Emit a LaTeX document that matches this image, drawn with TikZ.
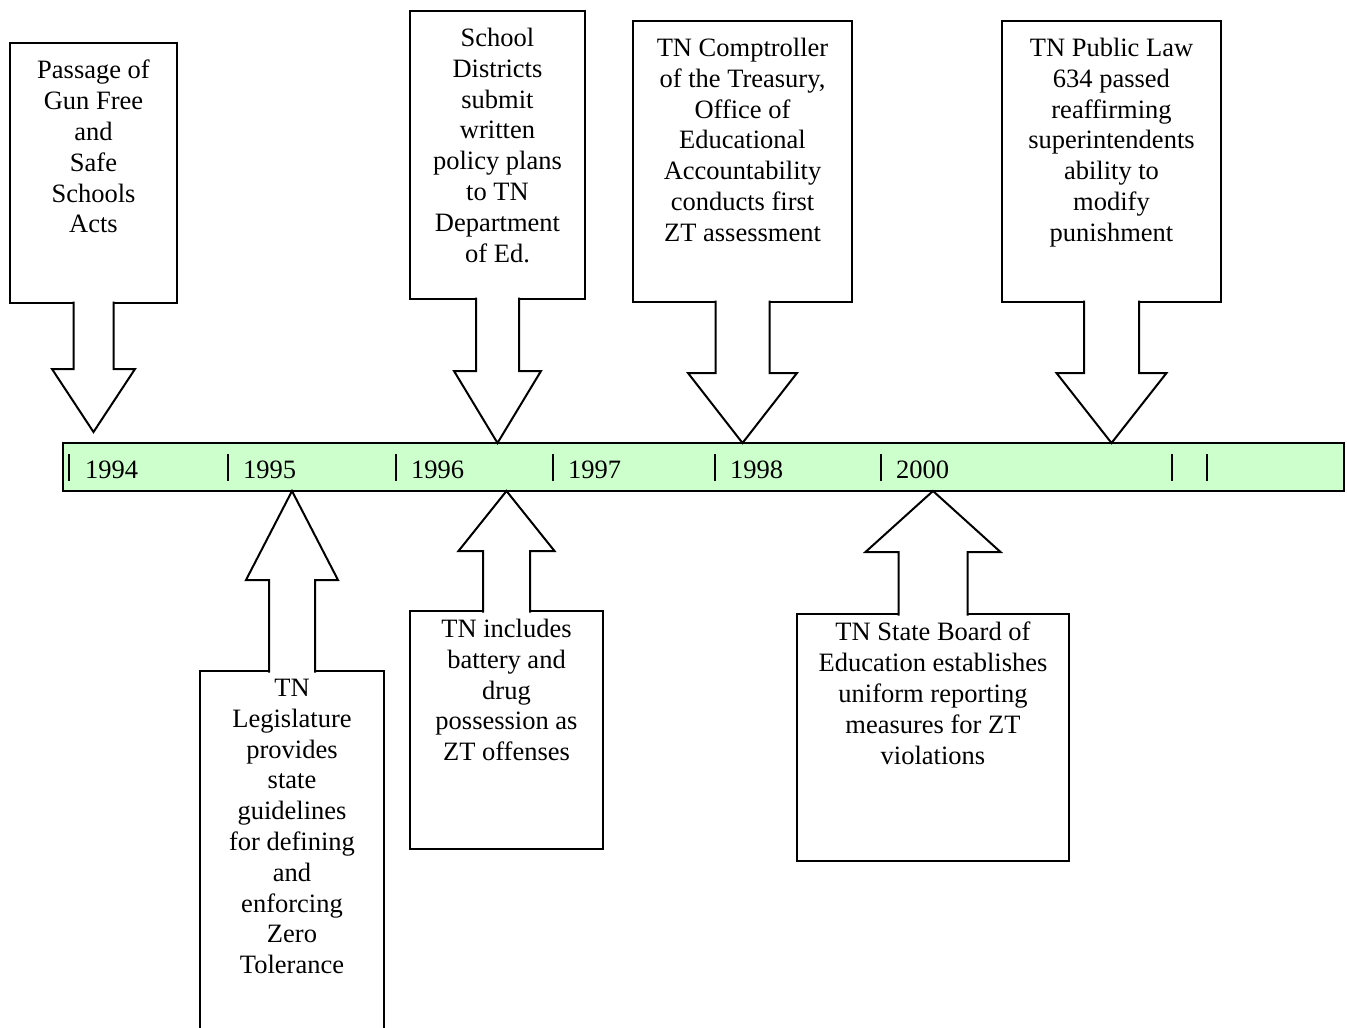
\documentclass[tikz,border=0pt]{standalone}
\usepackage{fontspec}
\setmainfont{Liberation Serif}
\usepackage{xcolor}
\usetikzlibrary{positioning,calc}
\definecolor{barfill}{HTML}{CCFFCC}

\begin{document}
\begin{tikzpicture}[x=1pt, y=-1pt,
        eventbox/.style={draw, line width=2pt, rectangle, anchor=north, inner sep=0pt, outer sep=0pt},
        eventtext/.style={align=center, inner sep=0pt, font=\fontsize{26.5}{30.8}\selectfont},
        blockarrow/.style={draw, line width=2pt, fill=white},
        yeartick/.style={line width=2pt},
        yearlabel/.style={anchor=base west, inner sep=0pt, font=\fontsize{26.5}{30.8}\selectfont}]
        \useasboundingbox (0,0) rectangle (1347,1028);

        % Timeline bar
        \node[draw, line width=2.5pt, fill=barfill, anchor=north west, minimum width=1281pt, minimum height=48pt, inner sep=0pt, outer sep=0pt] (timeline) at (63,443) {};

        % Year marks
        \foreach \x in {69,228,396,553,715,881,1172,1207}
            \draw[yeartick] (\x,454) -- (\x,481);
        \node[yearlabel] (y1994) at (85,478) {1994};
        \node[yearlabel] (y1995) at (243,478) {1995};
        \node[yearlabel] (y1996) at (411,478) {1996};
        \node[yearlabel] (y1997) at (568,478) {1997};
        \node[yearlabel] (y1998) at (730,478) {1998};
        \node[yearlabel] (y2000) at (896,478) {2000};

        % Events above the bar
        \node[eventbox, minimum width=167pt, minimum height=260pt] (gunfree) at (93.5,43) {};
        \node[eventtext, below=17pt of gunfree.north] (gunfree text) {Passage of\\Gun Free\\and\\Safe\\Schools\\Acts};

        \node[eventbox, minimum width=175pt, minimum height=288pt] (plans) at (497.5,11) {};
        \node[eventtext, below=17pt of plans.north] (plans text) {School\\Districts\\submit\\written\\policy plans\\to TN\\Department\\of Ed.};

        \node[eventbox, minimum width=219pt, minimum height=281pt] (comptroller) at (742.5,21) {};
        \node[eventtext, below=17pt of comptroller.north] (comptroller text) {TN Comptroller\\of the Treasury,\\Office of\\Educational\\Accountability\\conducts first\\ZT assessment};

        \node[eventbox, minimum width=219pt, minimum height=281pt] (publiclaw) at (1111.5,21) {};
        \node[eventtext, below=17pt of publiclaw.north] (publiclaw text) {TN Public Law\\634 passed\\reaffirming\\superintendents\\ability to\\modify\\punishment};

        % Events below the bar
        \node[eventbox, minimum width=184pt, minimum height=359pt] (guidelines) at (292,671) {};
        \node[eventtext, below=8pt of guidelines.north] (guidelines text) {TN\\Legislature\\provides\\state\\guidelines\\for defining\\and\\enforcing\\Zero\\Tolerance};

        \node[eventbox, minimum width=193pt, minimum height=238pt] (offenses) at (506.5,611) {};
        \node[eventtext, below=8pt of offenses.north] (offenses text) {TN includes\\battery and\\drug\\possession as\\ZT offenses};

        \node[eventbox, minimum width=272pt, minimum height=247pt] (reporting) at (933,614) {};
        \node[eventtext, below=8pt of reporting.north] (reporting text) {TN State Board of\\Education establishes\\uniform reporting\\measures for ZT\\violations};

        % Arrow tips
        \coordinate (gunfree tip) at (93.5,432);
        \coordinate (plans tip) at (plans.south |- timeline.north);
        \coordinate (comptroller tip) at (comptroller.south |- timeline.north);
        \coordinate (publiclaw tip) at (publiclaw.south |- timeline.north);
        \coordinate (guidelines tip) at (guidelines.north |- timeline.south);
        \coordinate (offenses tip) at (offenses.north |- timeline.south);
        \coordinate (reporting tip) at (reporting.north |- timeline.south);

        % Arrows down to the bar
        \draw[blockarrow] ($(gunfree.south)+(-20,-1.5)$) -- ($(gunfree tip)+(-20,-63)$) -- ($(gunfree tip)+(-41.5,-63)$) -- (gunfree tip) -- ($(gunfree tip)+(41.5,-63)$) -- ($(gunfree tip)+(20,-63)$) -- ($(gunfree.south)+(20,-1.5)$);
        \draw[blockarrow] ($(plans.south)+(-21.5,-1.5)$) -- ($(plans tip)+(-21.5,-72)$) -- ($(plans tip)+(-43.5,-72)$) -- (plans tip) -- ($(plans tip)+(43.5,-72)$) -- ($(plans tip)+(21.5,-72)$) -- ($(plans.south)+(21.5,-1.5)$);
        \draw[blockarrow] ($(comptroller.south)+(-27,-1.5)$) -- ($(comptroller tip)+(-27,-70)$) -- ($(comptroller tip)+(-54.5,-70)$) -- (comptroller tip) -- ($(comptroller tip)+(54.5,-70)$) -- ($(comptroller tip)+(27,-70)$) -- ($(comptroller.south)+(27,-1.5)$);
        \draw[blockarrow] ($(publiclaw.south)+(-27.5,-1.5)$) -- ($(publiclaw tip)+(-27.5,-70)$) -- ($(publiclaw tip)+(-55,-70)$) -- (publiclaw tip) -- ($(publiclaw tip)+(55,-70)$) -- ($(publiclaw tip)+(27.5,-70)$) -- ($(publiclaw.south)+(27.5,-1.5)$);

        % Arrows up to the bar
        \draw[blockarrow] ($(guidelines.north)+(-23,1.5)$) -- ($(guidelines tip)+(-23,89)$) -- ($(guidelines tip)+(-46,89)$) -- (guidelines tip) -- ($(guidelines tip)+(46,89)$) -- ($(guidelines tip)+(23,89)$) -- ($(guidelines.north)+(23,1.5)$);
        \draw[blockarrow] ($(offenses.north)+(-23.5,1.5)$) -- ($(offenses tip)+(-23.5,60)$) -- ($(offenses tip)+(-48,60)$) -- (offenses tip) -- ($(offenses tip)+(48,60)$) -- ($(offenses tip)+(23.5,60)$) -- ($(offenses.north)+(23.5,1.5)$);
        \draw[blockarrow] ($(reporting.north)+(-34.5,1.5)$) -- ($(reporting tip)+(-34.5,61)$) -- ($(reporting tip)+(-67.5,61)$) -- (reporting tip) -- ($(reporting tip)+(67.5,61)$) -- ($(reporting tip)+(34.5,61)$) -- ($(reporting.north)+(34.5,1.5)$);
    \end{tikzpicture}
\end{document}
